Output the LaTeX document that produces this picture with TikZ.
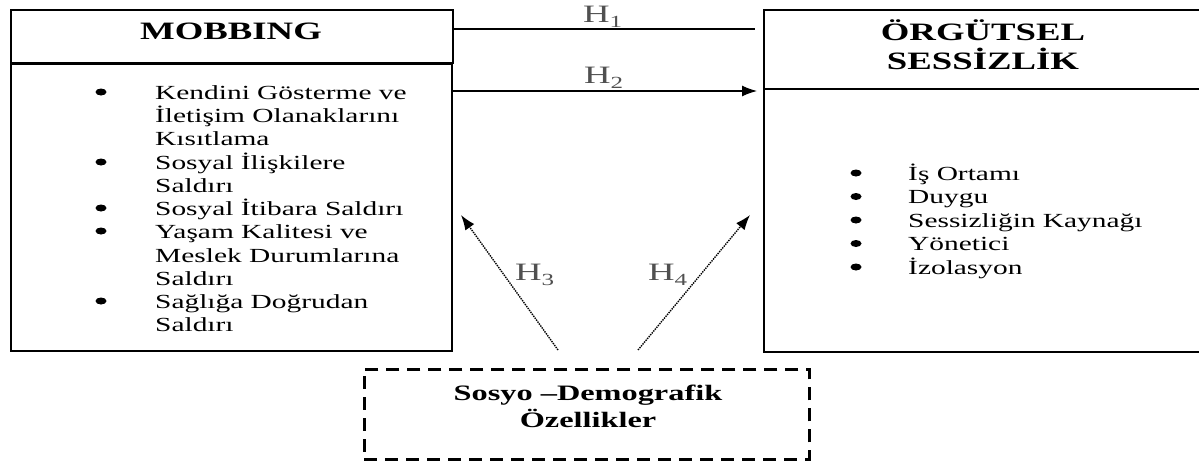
\documentclass[tikz,border=0pt]{standalone}
\usepackage{fontspec}
\setmainfont{Liberation Serif}[FakeStretch=1.47]
\usetikzlibrary{arrows.meta,shapes.geometric}
\definecolor{hgray}{RGB}{80,80,80}
\tikzset{
  boxstyle/.style={draw, line width=1.9pt, inner sep=0pt},
  txt/.style={anchor=base west, inner sep=0pt, font=\fontsize{20}{23}\selectfont},
  bul/.style={ellipse, fill=black, inner sep=0pt, minimum width=11pt, minimum height=7pt},
  head/.style={anchor=base, inner sep=0pt, font=\fontsize{25}{29}\selectfont\bfseries},
  hlab/.style={anchor=base west, inner sep=0pt, text=hgray, font=\fontsize{25}{29}\selectfont},
  arr/.style={line width=1.3pt, -{Latex[length=15pt,width=11pt]}},
  dotarr/.style={line width=1.4pt, densely dotted, -{Latex[length=15pt,width=11pt]}},
}
\newcommand{\hsub}[1]{\raisebox{-0.22em}{\fontsize{17}{17}\selectfont #1}}
\begin{document}
\begin{tikzpicture}[x=1pt,y=-1pt]
\useasboundingbox (0,0) rectangle (1199,461);
% boxes
\node[boxstyle, anchor=north west, minimum width=442pt, minimum height=53pt] (mob) at (10,9) {};
\node[boxstyle, anchor=north west, minimum width=441pt, minimum height=287pt] (moblist) at (10,63) {};
\node[boxstyle, anchor=north west, minimum width=440pt, minimum height=79pt] (org) at (763,9) {};
\node[boxstyle, anchor=north west, minimum width=440pt, minimum height=263pt] (orglist) at (763,88) {};
\node[draw, line width=2.6pt, dash pattern=on 13pt off 8pt, anchor=north west, minimum width=445pt, minimum height=90pt, inner sep=0pt] (soc) at (363,368) {};
% headings
\node[head] (mobt) at (231,39.5) {MOBBING};
\node[head] (orgt1) at (983,40) {ÖRGÜTSEL};
\node[head] (orgt2) at (983,69) {SESSİZLİK};
\node[anchor=base, inner sep=0pt, font=\fontsize{22}{26}\selectfont\bfseries] (soct1) at (588,400) {Sosyo –Demografik};
\node[anchor=base, inner sep=0pt, font=\fontsize{22}{26}\selectfont\bfseries] (soct2) at (588,427) {Özellikler};
% left list
\node[bul] (lb1) at (101,92) {};
\node[bul] (lb2) at (101,162) {};
\node[bul] (lb3) at (101,208) {};
\node[bul] (lb4) at (101,231) {};
\node[bul] (lb5) at (101,301) {};
\node[txt] (l1) at (155,99) {Kendini Gösterme ve};
\node[txt] (l2) at (155,122) {İletişim Olanaklarını};
\node[txt] (l3) at (155,145) {Kısıtlama};
\node[txt] (l4) at (155,169) {Sosyal İlişkilere};
\node[txt] (l5) at (155,192) {Saldırı};
\node[txt] (l6) at (155,215) {Sosyal İtibara Saldırı};
\node[txt] (l7) at (155,238) {Yaşam Kalitesi ve};
\node[txt] (l8) at (155,262) {Meslek Durumlarına};
\node[txt] (l9) at (155,285) {Saldırı};
\node[txt] (l10) at (155,308) {Sağlığa Doğrudan};
\node[txt] (l11) at (155,331) {Saldırı};
% right list
\node[bul] (rb1) at (856,173) {};
\node[bul] (rb2) at (856,196.5) {};
\node[bul] (rb3) at (856,220) {};
\node[bul] (rb4) at (856,243.5) {};
\node[bul] (rb5) at (856,267) {};
\node[txt] (r1) at (908,180) {İş Ortamı};
\node[txt] (r2) at (908,203.5) {Duygu};
\node[txt] (r3) at (908,227) {Sessizliğin Kaynağı};
\node[txt] (r4) at (908,250.5) {Yönetici};
\node[txt] (r5) at (908,274) {İzolasyon};
% connectors
\coordinate (h1a) at (453,29);
\coordinate (h1b) at (755,29);
\coordinate (h2a) at (453,91);
\coordinate (h2b) at (757,91);
\coordinate (h3a) at (558,350);
\coordinate (h3b) at (461,215);
\coordinate (h4a) at (638,350);
\coordinate (h4b) at (750,215);
\draw[line width=1.3pt] (h1a) -- (h1b);
\draw[arr] (h2a) -- (h2b);
\draw[dotarr] (h3a) -- (h3b);
\draw[dotarr] (h4a) -- (h4b);
% labels
\node[hlab] (lab1) at (583,22) {H\hsub{1}};
\node[hlab] (lab2) at (584,83) {H\hsub{2}};
\node[hlab] (lab3) at (515,280) {H\hsub{3}};
\node[hlab] (lab4) at (648,280) {H\hsub{4}};
\end{tikzpicture}
\end{document}
